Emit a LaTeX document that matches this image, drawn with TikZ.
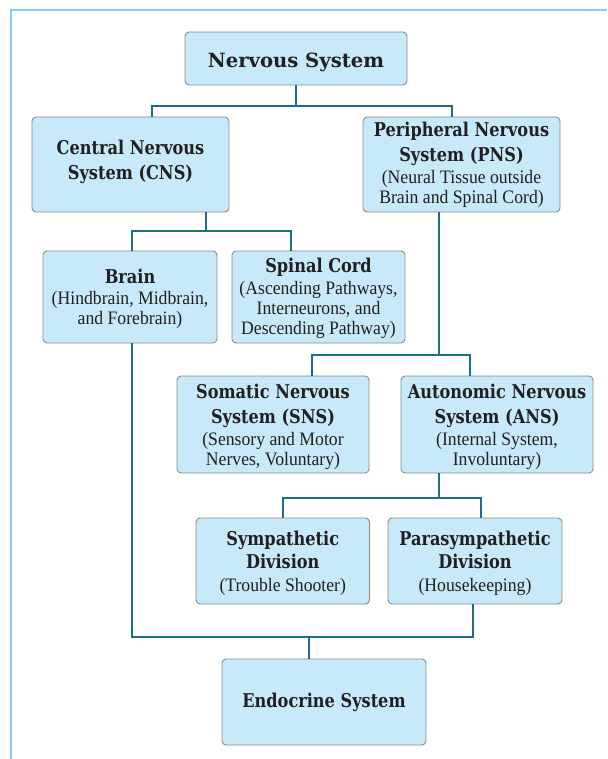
\documentclass[tikz,border=0pt]{standalone}
\usepackage{fontspec}
\setmainfont{Liberation Serif}[FakeStretch=0.93]
\newfontfamily\ttlfam{DejaVu Serif}[FakeStretch=0.85]
\newfontfamily\nsfam{DejaVu Serif}
\newcommand\subf{\fontsize{19}{20}\selectfont}
\newcommand\ttl{\ttlfam\bfseries\fontsize{19}{20}\selectfont}
\newcommand\nsf{\nsfam\bfseries\fontsize{19.6}{20}\selectfont}
\newcommand\topstrut[1]{\rule{0pt}{#1}}
\definecolor{boxfill}{RGB}{199,233,249}
\definecolor{boxborder}{RGB}{138,138,138}
\definecolor{conncol}{RGB}{29,110,140}
\definecolor{framecol}{RGB}{125,211,245}
\definecolor{txt}{RGB}{35,31,32}
\tikzset{
  box/.style={draw=boxborder, fill=boxfill, rounded corners=4pt, line width=0.9pt,
    align=center, inner sep=0pt, outer sep=0pt, text=txt, font=\subf},
  sz/.style 2 args={minimum width=#1, minimum height=#2},
  conn/.style={draw=conncol, line width=2.2pt, line join=miter},
  framel/.style={draw=framecol, line width=2pt},
  plain/.style={align=center, inner sep=0pt, text=txt}
}
\begin{document}
\begin{tikzpicture}[x=1pt,y=-1pt]
\useasboundingbox (0,0) rectangle (607,759);
\fill[white] (0,0) rectangle (607,759);
\draw[framel] (607,10.5) -- (10.5,10.5) -- (10.5,759);

\node[box, sz={222pt}{53pt}, font=\nsf, text height=19pt, text depth=0pt] (ns) at (296,58.5) {Nervous System};
\node[box, sz={197pt}{95pt}] (cns) at (130.5,164.5) {};
\node[plain, font=\ttl] (cnsT) at (130.5,161.5) {Central Nervous\\[5pt]System (CNS)};
\node[box, sz={197pt}{95pt}] (pns) at (461.5,164.5)
  {{\ttl Peripheral Nervous}\\[5pt]{\ttl System (PNS)}\\[2pt](Neural Tissue outside\\Brain and Spinal Cord)};
\node[box, sz={174pt}{92pt}] (brain) at (130,297)
  {{\ttl\topstrut{18pt}Brain}\\[1pt](Hindbrain, Midbrain,\\and Forebrain)};
\node[box, sz={173pt}{92pt}] (spinal) at (318.5,297)
  {{\ttl\topstrut{16.5pt}Spinal Cord}\\[2pt](Ascending Pathways,\\Interneurons, and\\Descending Pathway)};
\node[box, sz={192pt}{97pt}] (sns) at (273,424.5)
  {{\ttl\topstrut{19pt}Somatic Nervous}\\[5pt]{\ttl System (SNS)}\\[2pt](Sensory and Motor\\Nerves, Voluntary)};
\node[box, sz={192pt}{97pt}] (ans) at (497,424.5)
  {{\ttl\topstrut{19pt}Autonomic Nervous}\\[5pt]{\ttl System (ANS)}\\[2pt](Internal System,\\Involuntary)};
\node[box, sz={173.5pt}{86pt}] (symp) at (282.75,561)
  {{\ttl\topstrut{19pt}Sympathetic}\\[3.5pt]{\ttl Division}\\[3pt](Trouble Shooter)};
\node[box, sz={174pt}{86pt}] (para) at (475,561)
  {{\ttl\topstrut{19pt}Parasympathetic}\\[3.5pt]{\ttl Division}\\[3pt](Housekeeping)};
\node[box, sz={204pt}{86pt}, font=\ttl] (endo) at (324,702) {Endocrine System};

% connectors
\draw[conn] ([xshift=21.2pt]cns.north) -- ++(0,-11) coordinate (bus1) -| ([xshift=-9.8pt]pns.north);
\draw[conn] (ns.south) -- (ns.south |- bus1);
\draw[conn] ([xshift=2pt]brain.north) -- ++(0,-20) -| ([xshift=-27.8pt]spinal.north);
\draw[conn] ([xshift=75.5pt]cns.south) -- ++(0,19);
\draw[conn] ([xshift=38.7pt]sns.north) -- ++(0,-21) -| ([xshift=-27pt]ans.north);
\draw[conn] ([xshift=-22.2pt]pns.south) -- ++(0,143);
\draw[conn] (symp.north) -- ++(0,-20) -| ([xshift=6pt]para.north);
\draw[conn] ([xshift=-57.7pt]ans.south) -- ++(0,25);
\draw[conn] ([xshift=2pt]brain.south) -- ++(0,294) -| ([xshift=-2pt]para.south);
\draw[conn] ([xshift=-15.4pt]endo.north) -- ++(0,-22);
\end{tikzpicture}
\end{document}
